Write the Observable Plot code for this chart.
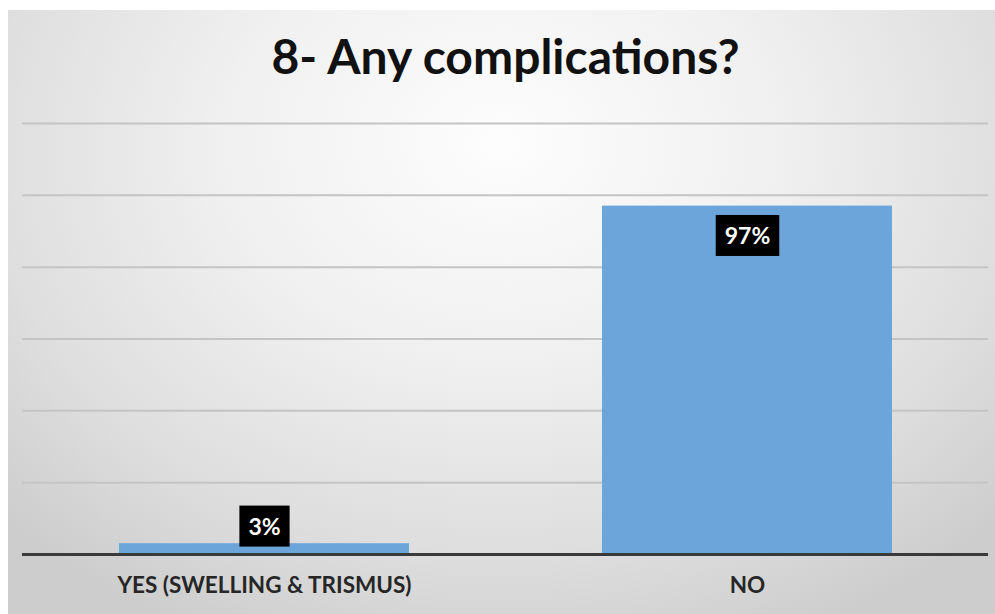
<!DOCTYPE html>
<html>
<head>
<meta charset="utf-8">
<script src="https://cdn.jsdelivr.net/npm/d3@7"></script>
<script src="https://cdn.jsdelivr.net/npm/@observablehq/plot@0.6"></script>
<style>
  html, body { margin: 0; padding: 0; background: #ffffff; }
  body { width: 995px; height: 614px; position: relative; overflow: hidden;
         font-family: Lato, "Open Sans", sans-serif; }
  #panel {
    position: absolute; left: 8px; top: 10px; width: 987px; height: 604px;
    background: radial-gradient(ellipse 70% 90% at 50% 22%, #fdfdfd 0%, #f0f0f0 40%, #dedede 75%, #cdcdcd 100%);
  }
  #title {
    position: absolute; left: 12px; width: 987px; top: 32px; text-align: center;
    font-size: 48px; font-weight: bold; color: #111; line-height: 1;
  }
  #chart { position: absolute; left: 0; top: 100px; }
  #chart svg { overflow: visible; }
</style>
</head>
<body>
<div id="panel"></div>
<div id="title">8- Any complications?</div>
<div id="chart"></div>
<script>
// Survey answers and their shares (percent)
const categories = ["YES (SWELLING & TRISMUS)", "NO"];
const percents = [3, 97];
// Horizontal gridlines (percent)
const gridTicks = [20, 40, 60, 80, 100, 120];

const rows = categories.map((c, i) => ({ category: c, value: percents[i] }));
const FONT = 'Lato, "Open Sans", sans-serif';
const label = d => d.value + "%";

const chart = Plot.plot({
  width: 995,
  height: 514,
  marginTop: 23,
  marginBottom: 60,
  marginLeft: 22,
  marginRight: 7,
  style: { background: "transparent", fontFamily: FONT, overflow: "visible" },
  x: { domain: categories, paddingInner: 0.4, paddingOuter: 0.2, label: null },
  y: { domain: [0, 120], axis: null },
  marks: [
    Plot.ruleY(gridTicks, { stroke: "#c4c4c4", strokeWidth: 2 }),
    Plot.barY(rows, { x: "category", y: "value", fill: "#6ba5d9" }),
    Plot.ruleY([0], { stroke: "#3a3a3a", strokeWidth: 3 }),
    Plot.axisX({ tickSize: 0, tickPadding: 23, fontSize: 22.5, fontWeight: "bold", fill: "#262626", label: null }),
    // labels inside the top of tall bars
    Plot.text(rows.filter(d => d.value >= 10), {
      x: "category", y: "value", text: label, dy: 31,
      fill: "white", fontSize: 23, fontWeight: "bold", className: "vlabel"
    }),
    // labels sitting just above short bars
    Plot.text(rows.filter(d => d.value < 10), {
      x: "category", y: "value", text: label, dy: -16,
      fill: "white", fontSize: 23, fontWeight: "bold", className: "vlabel"
    })
  ]
});

document.getElementById("chart").appendChild(chart);

// black boxes behind the value labels
d3.select(chart).selectAll("g.vlabel text").each(function () {
  const b = this.getBBox();
  const padX = 9, boxH = 41;
  const cy = b.y + b.height / 2;
  d3.select(this.parentNode).insert("rect", () => this)
    .attr("transform", this.getAttribute("transform"))
    .attr("x", b.x - padX).attr("y", cy - boxH / 2)
    .attr("width", b.width + 2 * padX).attr("height", boxH)
    .attr("fill", "#000");
});
</script>
</body>
</html>
